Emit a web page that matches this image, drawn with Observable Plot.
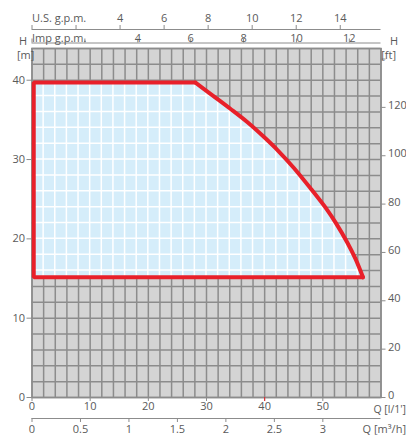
<!DOCTYPE html>
<html>
<head>
<meta charset="utf-8">
<script src="https://cdn.jsdelivr.net/npm/d3@7"></script>
<script src="https://cdn.jsdelivr.net/npm/@observablehq/plot@0.6"></script>
<style>
  html, body { margin: 0; padding: 0; background: #fff; }
  #chart svg { display: block; }
</style>
</head>
<body>
<div id="chart"></div>
<script>
// ---- data ----
// envelope of the pump operating field: Q [l/min], H [m]
const envQ = [0.3, 28.1, 31.2, 34.1, 37.05, 39.8, 42.2, 44.95, 47.9, 50.8, 52.2, 54.2, 55.6, 56.9];
const envH = [39.7, 39.7, 38.0, 36.4, 34.7, 32.9, 31.2, 29.0, 26.35, 23.6, 22.05, 19.55, 17.5, 15.15];
const envMinH = 15.15;

// tick values
const qTicks = [0, 10, 20, 30, 40, 50];           // l/min
const hTicks = [0, 10, 20, 30, 40];               // m
const ftTicks = [0, 20, 40, 60, 80, 100, 120, 140];
const ftLabels = [0, 20, 40, 60, 80, 100, 120];
const m3Ticks = [0, 0.5, 1, 1.5, 2, 2.5, 3];      // m3/h
const usTicks = [0, 2, 4, 6, 8, 10, 12, 14];      // US gpm
const usLabels = [4, 6, 8, 10, 12, 14];
const impTicks = [0, 2, 4, 6, 8, 10, 12];         // Imp gpm
const impLabels = [4, 6, 8, 10, 12];
const gridQ = d3.range(0, 61, 2);
const gridH = d3.range(0, 45, 2);
const redTick = [40];

// unit conversions to the base axes
const FT = 0.3048, M3H = 1000 / 60, USG = 3.78541, IMPG = 4.54609;

const env = envQ.map((q, i) => ({q, h: envH[i]}));
const straight = [{q: env[1].q, h: env[1].h}, {q: envQ[0], h: envH[0]}, {q: envQ[0], h: envMinH}, {q: envQ[envQ.length - 1], h: envMinH}];
const curved = env.slice(1);

const textColor = "#5a5a5a";
const axisColor = "#8c8c8c";
const red = "#e8202a";

function innerGrid(index, scales, values, dimensions) {
  const x = scales.x, y = scales.y;
  const {width, height, marginLeft, marginRight, marginTop, marginBottom} = dimensions;
  const g = d3.create("svg:g");
  const path = d3.line().x(d => x(d.q)).y(d => y(d.h)).curve(d3.curveCatmullRom);
  const top = path(curved);
  const d = top + "L" + x(envQ[0]) + "," + y(envMinH) + "L" + x(envQ[0]) + "," + y(envH[0]) + "Z";
  g.append("path").attr("d", d).attr("fill", "#d5edfa");
  g.append("clipPath").attr("id", "envclip").append("path").attr("d", d);
  const lines = g.append("g").attr("clip-path", "url(#envclip)")
    .attr("stroke", "#ffffff").attr("stroke-width", 1.5);
  gridQ.forEach(q => lines.append("line")
    .attr("x1", x(q)).attr("x2", x(q)).attr("y1", marginTop).attr("y2", height - marginBottom));
  gridH.forEach(h => lines.append("line")
    .attr("y1", y(h)).attr("y2", y(h)).attr("x1", marginLeft).attr("x2", width - marginRight));
  return g.node();
}

const chart = Plot.plot({
  width: 406,
  height: 441,
  marginLeft: 31.5,
  marginRight: 25.5,
  marginTop: 48,
  marginBottom: 44,
  x: {domain: [0, 60], axis: null},
  y: {domain: [0, 44], axis: null},
  style: {fontFamily: "'Open Sans', sans-serif", fontSize: "11px", color: textColor, background: "#fff"},
  marks: [
    Plot.frame({fill: "#d4d4d4", stroke: axisColor, strokeWidth: 1.5}),
    Plot.ruleX(gridQ, {x: d => d, stroke: axisColor, strokeWidth: 1.5}),
    Plot.ruleY(gridH, {y: d => d, stroke: axisColor, strokeWidth: 1.5}),
    innerGrid,
    Plot.line(straight, {x: "q", y: "h", stroke: red, strokeWidth: 4, strokeLinejoin: "miter"}),
    Plot.line(curved, {x: "q", y: "h", curve: "catmull-rom", stroke: red, strokeWidth: 4, strokeLinecap: "round"}),

    // left H [m] axis
    Plot.ruleY(hTicks, {y: d => d, x1: 0, x2: 0, insetLeft: -5, stroke: axisColor}),
    Plot.text(hTicks, {y: d => d, frameAnchor: "left", dx: -7, textAnchor: "end", fill: textColor}),
    Plot.text(["H"], {frameAnchor: "top-left", dx: -13, dy: -11, fill: textColor}),
    Plot.text(["[m]"], {frameAnchor: "top-left", dx: -15, dy: 3, fill: textColor}),

    // right H [ft] axis
    Plot.ruleY(ftTicks, {y: d => d * FT, x1: 60, x2: 60, insetRight: -5, stroke: axisColor}),
    Plot.text(ftLabels, {y: d => d * FT, frameAnchor: "right", dx: 7, dy: -2, textAnchor: "start", fill: textColor}),
    Plot.text(["H"], {frameAnchor: "top-right", dx: 17, dy: -11, fill: textColor}),
    Plot.text(["[ft]"], {frameAnchor: "top-right", dx: 15, dy: 3, fill: textColor}),

    // bottom Q [l/1'] axis
    Plot.ruleX(qTicks, {x: d => d, y1: 0, y2: 0, insetBottom: -4, stroke: axisColor}),
    Plot.ruleX(redTick, {x: d => d, y1: 0, y2: 0, insetBottom: -4, stroke: red}),
    Plot.text(qTicks, {x: d => d, frameAnchor: "bottom", dy: 12, fill: textColor}),
    Plot.text(["Q [l/1']"], {x: 60, frameAnchor: "bottom", dx: 25, dy: 15, textAnchor: "end", fontSize: 10.5, fill: textColor}),

    // bottom Q [m3/h] axis
    Plot.ruleY([0], {y: d => d, dy: 21, stroke: axisColor}),
    Plot.ruleX(m3Ticks, {x: d => d * M3H, y1: 0, y2: 0, dy: 21, insetBottom: -4, stroke: axisColor}),
    Plot.text(m3Ticks, {x: d => d * M3H, frameAnchor: "bottom", dy: 35, fill: textColor}),
    Plot.text(["Q [m³/h]"], {x: 60, frameAnchor: "bottom", dx: 25, dy: 35, textAnchor: "end", fill: textColor}),

    // top U.S. g.p.m. axis
    Plot.ruleY([44], {y: d => d, dy: -19, stroke: axisColor}),
    Plot.ruleX(usTicks, {x: d => d * USG, y1: 44, y2: 44, dy: -19, insetTop: -4, stroke: axisColor}),
    Plot.text(usLabels, {x: d => d * USG, frameAnchor: "top", dy: -34, fill: textColor}),
    Plot.text(["U.S. g.p.m."], {x: 0, frameAnchor: "top", dy: -34, textAnchor: "start", fill: textColor}),

    // top Imp g.p.m. axis
    Plot.ruleY([44], {y: d => d, dy: -5.5, stroke: axisColor}),
    Plot.ruleX(impTicks, {x: d => d * IMPG, y1: 44, y2: 44, dy: -5.5, insetTop: -4, stroke: axisColor}),
    Plot.text(impLabels, {x: d => d * IMPG, frameAnchor: "top", dy: -14, fill: textColor}),
    Plot.text(["Imp g.p.m."], {x: 0, frameAnchor: "top", dy: -14, textAnchor: "start", fill: textColor})
  ]
});
document.getElementById("chart").appendChild(chart);
</script>
</body>
</html>
